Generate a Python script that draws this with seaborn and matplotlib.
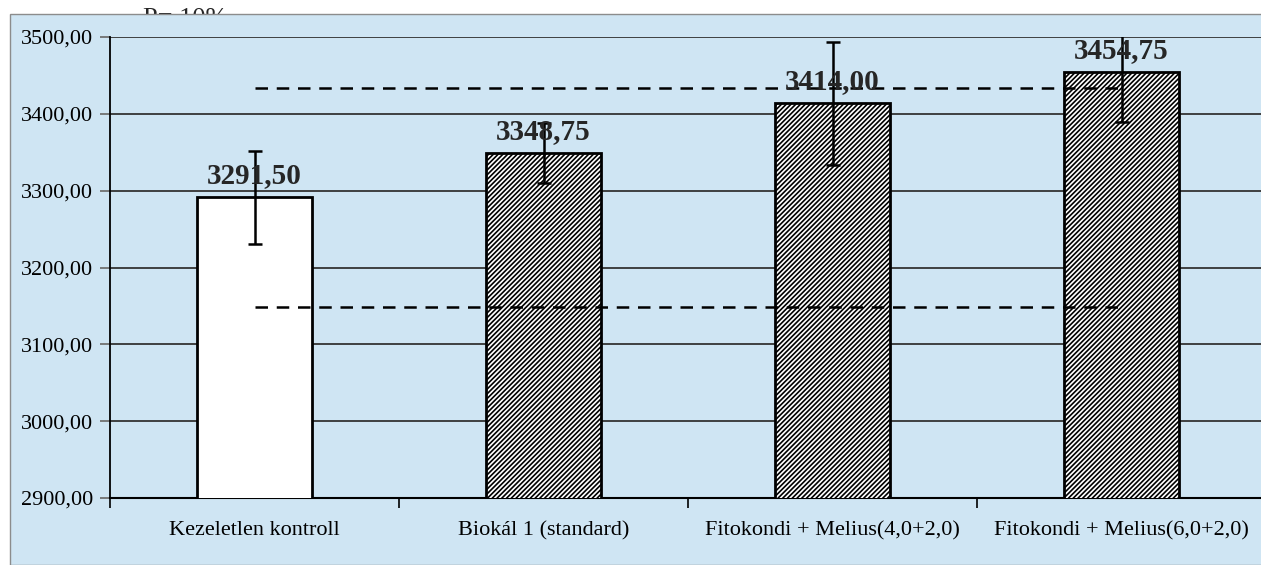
import matplotlib
matplotlib.use("Agg")
import matplotlib.pyplot as plt
import matplotlib.patches as mpatches
from matplotlib.ticker import FuncFormatter, FixedLocator
import seaborn as sns

# adatok
kezelesek = ["Kezeletlen kontroll", "Biokál 1 (standard)",
             "Fitokondi + Melius(4,0+2,0)", "Fitokondi + Melius(6,0+2,0)"]
termes = [3291.50, 3348.75, 3414.00, 3454.75]
hiba = [60.5, 39.0, 80.0, 66.0]
szd = 142.5  # SzD 10%

sns.set_style("white")
plt.rcParams['font.family'] = ['Liberation Serif', 'DejaVu Serif']
plt.rcParams['hatch.linewidth'] = 1.2

kek = '#cfe5f3'
fig = plt.figure(figsize=(12.61, 5.65), dpi=100)
fig.patch.set_facecolor('white')

# cim, amit a diagram terulete eltakar
fig.text(143/1261, 1-25/565, "P= 10%", fontsize=19, ha='left', va='baseline', zorder=-2)
fig.patches.append(mpatches.Rectangle((10/1261, 0), 1, 1-14/565, transform=fig.transFigure,
                                      facecolor=kek, edgecolor='#8c8c8c', lw=1, zorder=-1))

ax = fig.add_axes([110/1261, 1-498/565, 1156/1261, (498-37)/565])
ax.set_facecolor('none')

sns.barplot(x=kezelesek, y=termes, color='white', width=0.4, edgecolor='black',
            linewidth=2, ax=ax, zorder=3)
for i, p in enumerate(ax.patches):
    p.set_facecolor('white')
    if i > 0:
        p.set_hatch('///////')

ax.set_ylim(2900, 3500)
ax.set_xlim(-0.5, 3.5)

# SzD vonalak
for y in [termes[0] - szd, termes[0] + szd]:
    ax.plot([0, 3], [y, y], ls=(0, (5, 3.5)), color='black', lw=1.8, zorder=5)

ax.errorbar(range(len(termes)), termes, yerr=hiba, fmt='none', ecolor='black',
            elinewidth=1.8, capsize=5, capthick=1.8, zorder=6)

for i, v in enumerate(termes):
    ax.annotate(f"{v:.2f}".replace('.', ','), (i, v), xytext=(0, 10), textcoords='offset points',
                ha='center', va='baseline', fontsize=21, fontweight='bold', zorder=7)

ax.yaxis.set_major_locator(FixedLocator(range(2900, 3501, 100)))
ax.yaxis.set_major_formatter(FuncFormatter(lambda v, p: f"{v:.2f}".replace('.', ',')))
ax.grid(axis='y', color='#333333', lw=1.3)
ax.set_axisbelow(True)
ax.tick_params(axis='y', which='major', left=True, length=7, width=1.3, color='#707070',
               labelsize=16, pad=5, labelcolor='black')
ax.tick_params(axis='x', which='major', bottom=False, labelsize=16, pad=13, labelcolor='black')
ax.xaxis.set_minor_locator(FixedLocator([-0.5, 0.5, 1.5, 2.5, 3.5]))
ax.tick_params(axis='x', which='minor', bottom=True, length=7, width=1.2, color='black')

for s in ['top', 'right']:
    ax.spines[s].set_visible(False)
ax.spines['left'].set_color('black')
ax.spines['left'].set_linewidth(1.3)
ax.spines['bottom'].set_color('black')
ax.spines['bottom'].set_linewidth(1.5)
ax.set_xlabel('')
ax.set_ylabel('')

fig.savefig('out.png', dpi=100)
